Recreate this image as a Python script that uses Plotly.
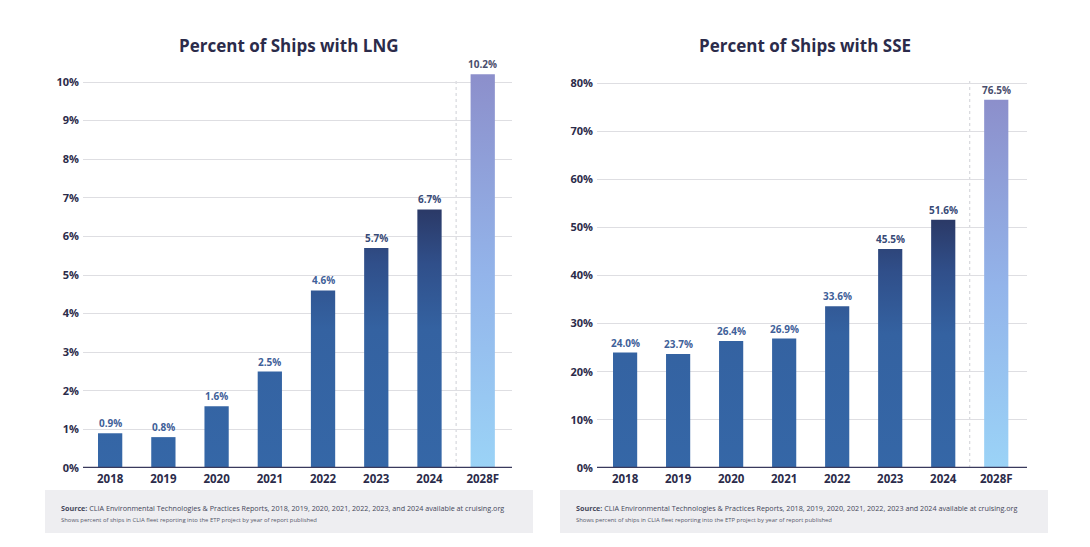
import plotly.graph_objects as go

# ---------------- data ----------------
categories = ["2018", "2019", "2020", "2021", "2022", "2023", "2024", "2028F"]
lng_values = [0.9, 0.8, 1.6, 2.5, 4.6, 5.7, 6.7, 10.2]
sse_values = [24.0, 23.7, 26.4, 26.9, 33.6, 45.5, 51.6, 76.5]
lng_ticks = list(range(0, 11, 1))
sse_ticks = list(range(0, 81, 10))
title_lng = "Percent of Ships with LNG"
title_sse = "Percent of Ships with SSE"
source_lng = ("<b>Source:</b> CLIA Environmental Technologies & Practices Reports, 2018, 2019, 2020, 2021, "
              "2022, 2023, and 2024 available at cruising.org")
source_sse = ("<b>Source:</b> CLIA Environmental Technologies & Practices Reports, 2018, 2019, 2020, 2021, "
              "2022, 2023 and 2024 available at cruising.org")
note_text = "Shows percent of ships in CLIA fleet reporting into the ETP project by year of report published"

# ---------------- style ----------------
W, H = 1090, 547
H_EFF = 540  # effective rendered height used for paper-coordinate mapping
FONT = "Open Sans"
DARK = "#2b2b4a"
HIST_SCALE = [[0, "#3567a7"], [0.55, "#3462a1"], [0.8, "#304f8a"], [1, "#2b3a68"]]
FORE_SCALE = [[0, "#9bd4f7"], [0.5, "#93b4ea"], [1, "#8c8fcb"]]
HALF_W = 0.228
y_bottom_px, y_top_px = 468, 72


def px_x(p):
    return p / W


def px_y(p):
    return 1 - p / H_EFF


fig = go.Figure()


def add_panel(values, xa):
    xref = "x" if xa == 1 else "x2"
    yref = "y" if xa == 1 else "y2"
    hist_max = max(values[:-1])
    n = len(values)
    for i, v in enumerate(values):
        forecast = i == n - 1
        xs = [i - HALF_W, i + HALF_W, i + HALF_W, i - HALF_W, i - HALF_W]
        ys = [0, 0, v, v, 0]
        if forecast:
            grad = dict(type="vertical", colorscale=FORE_SCALE, start=0, stop=v)
        else:
            grad = dict(type="vertical", colorscale=HIST_SCALE, start=0, stop=hist_max)
        fig.add_trace(go.Scatter(
            x=xs, y=ys, mode="lines", fill="toself", fillgradient=grad,
            line=dict(width=0), hoverinfo="skip", showlegend=False,
            xaxis=xref, yaxis=yref,
        ))
        if forecast:
            lc = "#4a4e6c"
        else:
            frac = v / hist_max
            lc = "#3f5f99" if frac < 0.75 else "#374a76"
        fig.add_annotation(
            x=i, y=v, xref=xref, yref=yref, text=f"<b>{v:.1f}%</b>",
            showarrow=False, yanchor="bottom", yshift=1,
            font=dict(family=FONT, size=10, color=lc),
        )
    # separator between actual and forecast
    fig.add_shape(type="line", xref=xref, yref=f"{yref} domain",
                  x0=n - 1.5, x1=n - 1.5, y0=0, y1=0.98,
                  line=dict(color="#cfd0d6", width=1, dash="dot"), layer="below")
    # baseline
    fig.add_shape(type="line", xref=f"{xref} domain", yref=yref,
                  x0=0, x1=1, y0=0, y1=0,
                  line=dict(color="#3a3a5c", width=2.5), layer="above")


add_panel(lng_values, 1)
add_panel(sse_values, 2)

axis_common = dict(showline=False, zeroline=False)
ydom = [px_y(y_bottom_px), px_y(y_top_px)]
lng_top = 10 * (y_bottom_px - y_top_px) / (468 - 82)
sse_top = 80 * (y_bottom_px - y_top_px) / (468 - 83)

fig.update_layout(
    width=W, height=H,
    margin=dict(l=0, r=0, t=0, b=0),
    paper_bgcolor="white", plot_bgcolor="white",
    showlegend=False,
    xaxis=dict(domain=[px_x(83), px_x(512)], range=[-0.51, 7.55],
               tickvals=list(range(len(categories))), ticktext=[f"<b>{c}</b>" for c in categories],
               showgrid=False, ticks="", tickfont=dict(family=FONT, size=11.5, color=DARK),
               ticklabelstandoff=2, **axis_common),
    yaxis=dict(domain=ydom, range=[0, lng_top], tickvals=lng_ticks,
               ticktext=[f"<b>{t}%</b>" for t in lng_ticks],
               showgrid=True, gridcolor="#dedee2", gridwidth=1, ticks="",
               tickfont=dict(family=FONT, size=11, color=DARK), ticklabelstandoff=3,
               **axis_common),
    xaxis2=dict(domain=[px_x(597), px_x(1027)], range=[-0.53, 7.58], anchor="y2",
                tickvals=list(range(len(categories))), ticktext=[f"<b>{c}</b>" for c in categories],
                showgrid=False, ticks="", tickfont=dict(family=FONT, size=11.5, color=DARK),
                ticklabelstandoff=2, **axis_common),
    yaxis2=dict(domain=ydom, range=[0, sse_top], anchor="x2", tickvals=sse_ticks,
                ticktext=[f"<b>{t}%</b>" for t in sse_ticks],
                showgrid=True, gridcolor="#dedee2", gridwidth=1, ticks="",
                tickfont=dict(family=FONT, size=11, color=DARK), ticklabelstandoff=3,
                **axis_common),
)

# titles
for txt, cx in [(title_lng, 289), (title_sse, 805)]:
    fig.add_annotation(xref="paper", yref="paper", x=px_x(cx), y=px_y(45),
                       text=f"<b>{txt}</b>", showarrow=False, xanchor="center", yanchor="middle",
                       font=dict(family=FONT, size=17, color=DARK))

# footer boxes and text
for (x0, x1, src) in [(45, 533, source_lng), (560, 1048, source_sse)]:
    fig.add_shape(type="rect", xref="paper", yref="paper",
                  x0=px_x(x0), x1=px_x(x1), y0=px_y(533), y1=px_y(490),
                  fillcolor="#eeeef1", line=dict(width=0), layer="below")
    fig.add_annotation(xref="paper", yref="paper", x=px_x(x0 + 14), y=px_y(508),
                       text=src, showarrow=False, xanchor="left", yanchor="middle",
                       font=dict(family=FONT, size=7.2, color="#44475a"))
    fig.add_annotation(xref="paper", yref="paper", x=px_x(x0 + 14), y=px_y(519.5),
                       text=note_text, showarrow=False, xanchor="left", yanchor="middle",
                       font=dict(family=FONT, size=5.9, color="#55586a"))

fig.write_html("out.html")
